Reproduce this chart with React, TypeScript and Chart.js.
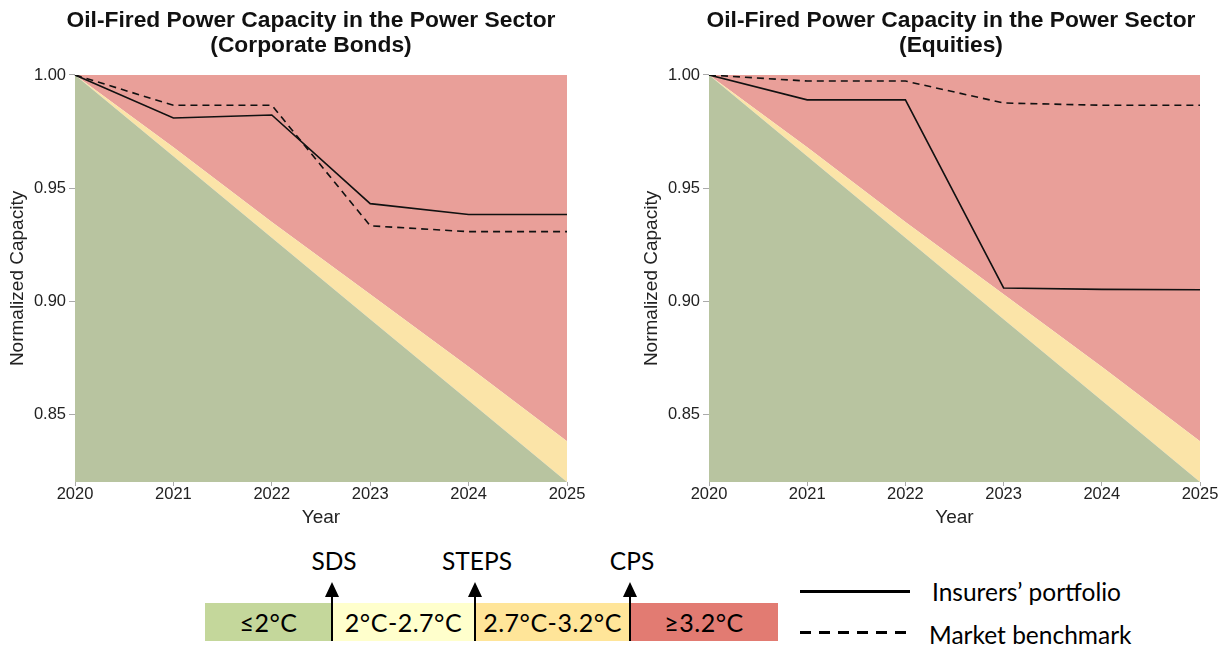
import React, { useEffect, useRef } from "react";
import { Chart, registerables } from "chart.js";

Chart.register(...registerables);

const YEARS = ["2020", "2021", "2022", "2023", "2024", "2025"];
const Y_TICKS = [0.85, 0.9, 0.95, 1.0];

// Scenario boundaries (normalized capacity)
const SDS_PATH = [1.0, 0.964, 0.928, 0.892, 0.856, 0.82];
const STEPS_PATH = [1.0, 0.968, 0.935, 0.903, 0.871, 0.838];
const CPS_TOP = [1.0, 1.0, 1.0, 1.0, 1.0, 1.0];

const BONDS_PORTFOLIO = [1.0, 0.981, 0.9823, 0.9431, 0.9383, 0.9383];
const BONDS_BENCHMARK = [1.0, 0.9866, 0.9866, 0.9333, 0.9307, 0.9307];
const EQUITY_PORTFOLIO = [1.0, 0.989, 0.989, 0.9058, 0.9052, 0.905];
const EQUITY_BENCHMARK = [1.0, 0.9973, 0.9973, 0.9876, 0.9866, 0.9866];

const TITLES = [
  ["Oil-Fired Power Capacity in the Power Sector", "(Corporate Bonds)"],
  ["Oil-Fired Power Capacity in the Power Sector", "(Equities)"],
];

const FONT = "'Liberation Sans', Arial, Helvetica, sans-serif";

function makeConfig(title: string[], portfolio: number[], benchmark: number[], rightSpace: number): any {
  return {
    type: "line",
    data: {
      labels: YEARS,
      datasets: [
        {
          data: SDS_PATH,
          fill: "start",
          backgroundColor: "#b8c4a0",
          borderWidth: 0,
          pointRadius: 0,
          order: 1,
        },
        {
          data: STEPS_PATH,
          fill: "-1",
          backgroundColor: "#fbe4a8",
          borderWidth: 0,
          pointRadius: 0,
          order: 1,
        },
        {
          data: CPS_TOP,
          fill: "-1",
          backgroundColor: "#e99f99",
          borderWidth: 0,
          pointRadius: 0,
          order: 1,
        },
        {
          data: portfolio,
          fill: false,
          borderColor: "#111",
          borderWidth: 1.6,
          pointRadius: 0,
          tension: 0,
          order: 0,
        },
        {
          data: benchmark,
          fill: false,
          borderColor: "#111",
          borderWidth: 1.6,
          borderDash: [7, 5],
          pointRadius: 0,
          tension: 0,
          order: 0,
        },
      ],
    },
    options: {
      animation: false,
      responsive: false,
      maintainAspectRatio: false,
      layout: { padding: 0 },
      plugins: {
        legend: { display: false },
        tooltip: { enabled: false },
        title: {
          display: true,
          text: title,
          color: "#111",
          font: { family: FONT, size: 22.8, weight: "bold", lineHeight: 1.1 },
          padding: { top: 8, bottom: 16.8 },
        },
      },
      scales: {
        x: {
          type: "category",
          offset: false,
          afterFit: (s: any) => {
            s.height = 53;
          },
          border: { display: false },
          grid: { drawOnChartArea: false, drawTicks: true, tickLength: 4, color: "#aaa" },
          ticks: { color: "#222", padding: -1, maxRotation: 0, font: { family: FONT, size: 16.5 } },
          title: {
            display: true,
            text: "Year",
            color: "#222",
            font: { family: FONT, size: 19 },
            padding: { top: 0, bottom: 5.5 },
          },
        },
        y: {
          type: "linear",
          min: 0.82,
          max: 1.0,
          afterFit: (s: any) => {
            s.width = 75;
          },
          afterBuildTicks: (s: any) => {
            s.ticks = Y_TICKS.map((v) => ({ value: v }));
          },
          border: { display: false },
          grid: { drawOnChartArea: false, drawTicks: true, tickLength: 6, color: "#aaa" },
          ticks: {
            color: "#222",
            padding: 3,
            font: { family: FONT, size: 16.5 },
            callback: (v: any) => Number(v).toFixed(2),
          },
          title: {
            display: true,
            text: "Normalized Capacity",
            color: "#222",
            font: { family: FONT, size: 19 },
            padding: { top: 6.5, bottom: 0 },
          },
        },
        // invisible spacer on the right so the chart title stays centered on the canvas
        spacer: {
          type: "linear",
          position: "right",
          min: 0.82,
          max: 1.0,
          afterFit: (s: any) => {
            s.width = rightSpace;
          },
          border: { display: false },
          grid: { display: false },
          ticks: { display: false },
        },
      },
    },
  };
}

function ChartPanel(props: { cfg: any; left: number; width: number; height: number }) {
  const ref = useRef<HTMLCanvasElement | null>(null);
  useEffect(() => {
    if (!ref.current) return;
    const chart = new Chart(ref.current, props.cfg);
    return () => chart.destroy();
  }, []);
  return (
    <canvas
      ref={ref}
      width={props.width}
      height={props.height}
      style={{ position: "absolute", left: props.left, top: 0, width: props.width, height: props.height }}
    />
  );
}

const LEGEND_FONT = "Lato, 'Open Sans', sans-serif";

const BAR_SEGMENTS = [
  { label: "≤2°C", from: 205, to: 332, color: "#c4d79b" },
  { label: "2°C-2.7°C", from: 332, to: 475, color: "#ffffcc" },
  { label: "2.7°C-3.2°C", from: 475, to: 630, color: "#ffe599" },
  { label: "≥3.2°C", from: 630, to: 778, color: "#e27b72" },
];
const SCENARIOS = [
  { label: "SDS", x: 332 },
  { label: "STEPS", x: 475 },
  { label: "CPS", x: 630 },
];

function Legend() {
  const barTop = 603;
  const barH = 38;
  return (
    <>
      {BAR_SEGMENTS.map((s, i) => (
        <div
          key={"seg" + i}
          style={{
            position: "absolute",
            left: s.from,
            top: barTop,
            width: s.to - s.from,
            height: barH,
            background: s.color,
            display: "flex",
            alignItems: "center",
            justifyContent: "center",
            fontFamily: LEGEND_FONT,
            fontSize: 25,
            letterSpacing: 0.5,
            color: "#000",
            whiteSpace: "nowrap",
          }}
        >
          {s.label}
        </div>
      ))}
      {SCENARIOS.map((s, i) => (
        <React.Fragment key={"sc" + i}>
          <div
            style={{
              position: "absolute",
              left: s.x + 2,
              top: 560,
              transform: "translate(-50%, -50%)",
              fontFamily: LEGEND_FONT,
              fontSize: 24.5,
              color: "#000",
              whiteSpace: "nowrap",
            }}
          >
            {s.label}
          </div>
          <div
            style={{
              position: "absolute",
              left: s.x - 1,
              top: 595,
              width: 2,
              height: 46,
              background: "#000",
            }}
          />
          <div
            style={{
              position: "absolute",
              left: s.x - 7,
              top: 582,
              width: 0,
              height: 0,
              borderLeft: "7px solid transparent",
              borderRight: "7px solid transparent",
              borderBottom: "15px solid #000",
            }}
          />
        </React.Fragment>
      ))}
      <div style={{ position: "absolute", left: 800, top: 590, width: 110, height: 3, background: "#000" }} />
      <div
        style={{
          position: "absolute",
          left: 800,
          top: 631,
          width: 108,
          height: 3,
          background: "repeating-linear-gradient(to right, #000 0px, #000 11px, transparent 11px, transparent 19px)",
        }}
      />
      <div
        style={{
          position: "absolute",
          left: 932,
          top: 591,
          transform: "translateY(-50%)",
          fontFamily: LEGEND_FONT,
          fontSize: 24.5,
          color: "#000",
          whiteSpace: "nowrap",
        }}
      >
        Insurers’ portfolio
      </div>
      <div
        style={{
          position: "absolute",
          left: 929,
          top: 634,
          transform: "translateY(-50%)",
          fontFamily: LEGEND_FONT,
          fontSize: 24.5,
          color: "#000",
          whiteSpace: "nowrap",
        }}
      >
        Market benchmark
      </div>
    </>
  );
}

export default function App() {
  return (
    <div style={{ position: "relative", width: 1228, height: 649, overflow: "hidden", background: "#fff" }}>
      <style>{`body{margin:0;}`}</style>
      <ChartPanel cfg={makeConfig(TITLES[0], BONDS_PORTFOLIO, BONDS_BENCHMARK, 55)} left={0} width={622} height={535} />
      <ChartPanel cfg={makeConfig(TITLES[1], EQUITY_PORTFOLIO, EQUITY_BENCHMARK, 68)} left={634} width={634} height={535} />
      <Legend />
    </div>
  );
}
